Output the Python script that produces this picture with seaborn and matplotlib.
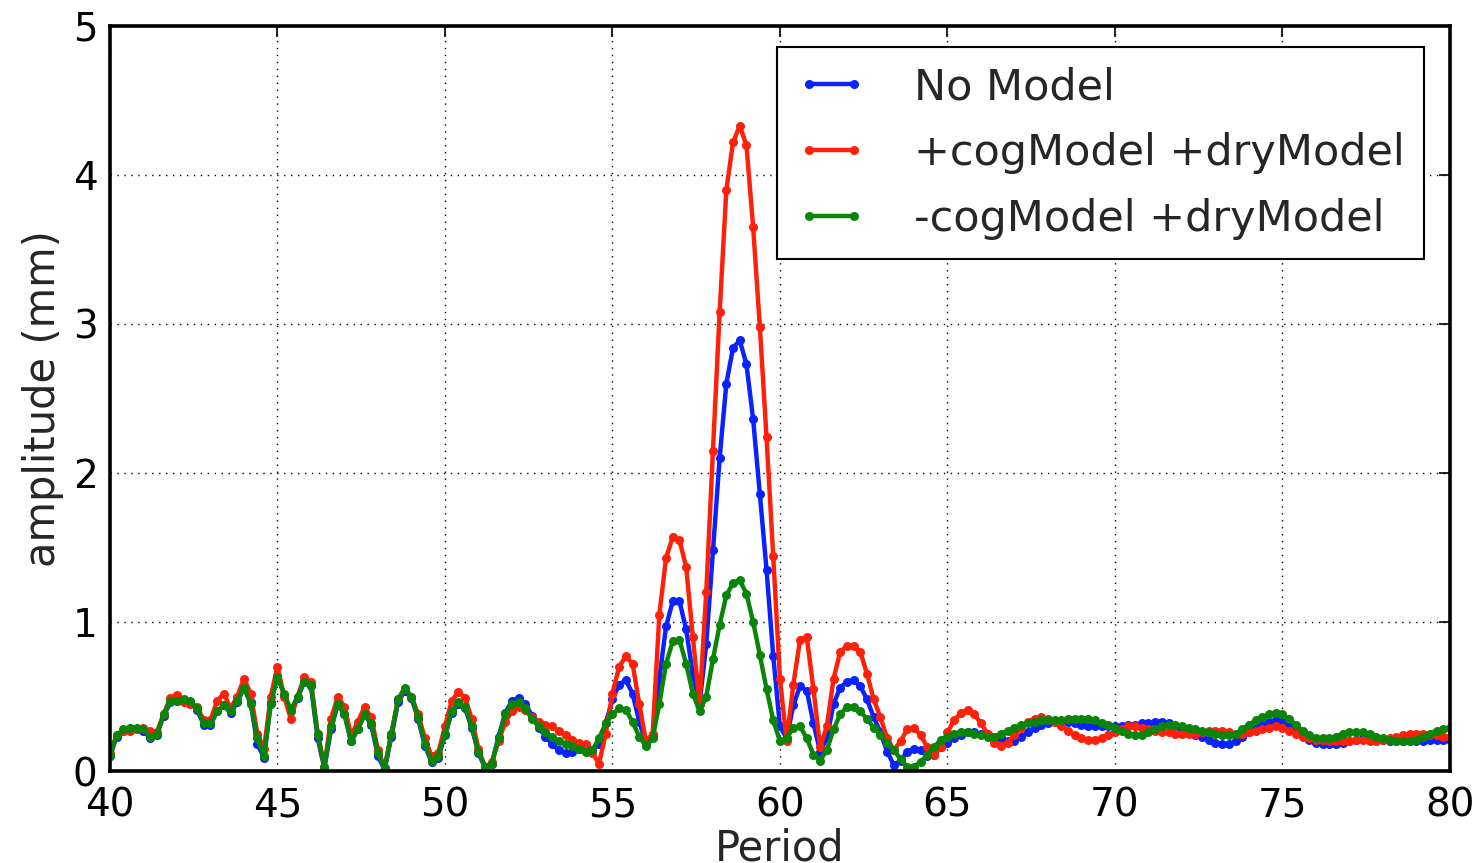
import numpy as np
import pandas as pd
import matplotlib
matplotlib.use("Agg")
import matplotlib.pyplot as plt
import seaborn as sns

# ---- data ----
period = np.round(np.arange(40.0, 80.001, 0.2), 1)

no_model = [
    0.10, 0.23, 0.27, 0.28, 0.28, 0.27, 0.22, 0.24, 0.37, 0.46,  # 40.0-41.8
    0.47, 0.47, 0.46, 0.41, 0.31, 0.31, 0.40, 0.44, 0.39, 0.46,  # 42.0-43.8
    0.56, 0.46, 0.18, 0.09, 0.46, 0.64, 0.51, 0.40, 0.49, 0.60,  # 44.0-45.8
    0.57, 0.22, 0.02, 0.28, 0.45, 0.38, 0.20, 0.28, 0.38, 0.31,  # 46.0-47.8
    0.10, 0.01, 0.23, 0.46, 0.54, 0.49, 0.35, 0.17, 0.06, 0.09,  # 48.0-49.8
    0.24, 0.39, 0.45, 0.42, 0.29, 0.12, 0.02, 0.05, 0.23, 0.39,  # 50.0-51.8
    0.47, 0.49, 0.45, 0.37, 0.29, 0.23, 0.18, 0.14, 0.12, 0.13,  # 52.0-53.8
    0.15, 0.16, 0.14, 0.18, 0.32, 0.48, 0.58, 0.61, 0.52, 0.33,  # 54.0-55.8
    0.19, 0.24, 0.62, 0.97, 1.14, 1.14, 0.95, 0.65, 0.45, 0.85,  # 56.0-57.8
    1.48, 2.10, 2.60, 2.84, 2.89, 2.73, 2.36, 1.86, 1.35, 0.77,  # 58.0-59.8
    0.30, 0.22, 0.44, 0.57, 0.54, 0.32, 0.13, 0.22, 0.45, 0.56,  # 60.0-61.8
    0.60, 0.61, 0.57, 0.48, 0.36, 0.26, 0.13, 0.04, 0.07, 0.13,  # 62.0-63.8
    0.15, 0.14, 0.10, 0.11, 0.16, 0.19, 0.22, 0.24, 0.26, 0.26,  # 64.0-65.8
    0.25, 0.24, 0.23, 0.22, 0.20, 0.20, 0.23, 0.26, 0.29, 0.31,  # 66.0-67.8
    0.32, 0.33, 0.33, 0.33, 0.32, 0.31, 0.30, 0.30, 0.30, 0.30,  # 68.0-69.8
    0.30, 0.30, 0.31, 0.31, 0.32, 0.32, 0.33, 0.33, 0.32, 0.30,  # 70.0-71.8
    0.28, 0.26, 0.24, 0.23, 0.21, 0.19, 0.18, 0.18, 0.20, 0.23,  # 72.0-73.8
    0.26, 0.29, 0.31, 0.33, 0.34, 0.33, 0.31, 0.28, 0.24, 0.21,  # 74.0-75.8
    0.19, 0.18, 0.18, 0.18, 0.19, 0.20, 0.21, 0.22, 0.22, 0.21,  # 76.0-77.8
    0.21, 0.20, 0.20, 0.20, 0.20, 0.20, 0.20, 0.21, 0.21, 0.21,  # 78.0-79.8
    0.21,                                                        # 80.0
]

cog_dry = [
    0.12, 0.24, 0.27, 0.27, 0.28, 0.29, 0.27, 0.26, 0.38, 0.49,
    0.51, 0.46, 0.45, 0.43, 0.34, 0.34, 0.47, 0.52, 0.42, 0.50,
    0.62, 0.52, 0.25, 0.15, 0.50, 0.70, 0.50, 0.35, 0.50, 0.63,
    0.60, 0.25, 0.03, 0.35, 0.50, 0.43, 0.24, 0.33, 0.43, 0.36,
    0.14, 0.02, 0.25, 0.48, 0.55, 0.50, 0.38, 0.22, 0.10, 0.12,
    0.30, 0.47, 0.53, 0.49, 0.35, 0.15, 0.02, 0.06, 0.20, 0.33,
    0.40, 0.43, 0.41, 0.36, 0.33, 0.31, 0.30, 0.27, 0.24, 0.21,
    0.19, 0.18, 0.12, 0.05, 0.25, 0.52, 0.70, 0.77, 0.72, 0.45,
    0.20, 0.25, 1.05, 1.43, 1.57, 1.55, 1.37, 0.90, 0.45, 1.20,
    2.15, 3.08, 3.90, 4.22, 4.33, 4.20, 3.65, 2.98, 2.24, 1.44,
    0.62, 0.20, 0.58, 0.88, 0.90, 0.55, 0.16, 0.30, 0.62, 0.80,
    0.84, 0.84, 0.80, 0.65, 0.48, 0.36, 0.22, 0.14, 0.20, 0.28,
    0.29, 0.24, 0.16, 0.11, 0.16, 0.26, 0.34, 0.39, 0.41, 0.38,
    0.32, 0.25, 0.19, 0.17, 0.19, 0.24, 0.29, 0.33, 0.35, 0.36,
    0.35, 0.33, 0.30, 0.27, 0.24, 0.22, 0.21, 0.21, 0.22, 0.24,
    0.26, 0.28, 0.30, 0.30, 0.29, 0.28, 0.27, 0.26, 0.26, 0.25,
    0.25, 0.25, 0.25, 0.26, 0.27, 0.27, 0.27, 0.26, 0.25, 0.25,
    0.26, 0.27, 0.28, 0.29, 0.30, 0.29, 0.27, 0.25, 0.23, 0.22,
    0.21, 0.21, 0.20, 0.20, 0.20, 0.20, 0.21, 0.21, 0.20, 0.20,
    0.21, 0.22, 0.23, 0.24, 0.25, 0.25, 0.25, 0.24, 0.24, 0.23,
    0.23,
]

nocog_dry = [
    0.10, 0.24, 0.28, 0.29, 0.29, 0.28, 0.23, 0.25, 0.38, 0.47,
    0.47, 0.48, 0.47, 0.42, 0.32, 0.32, 0.40, 0.44, 0.40, 0.47,
    0.56, 0.45, 0.22, 0.10, 0.45, 0.63, 0.52, 0.41, 0.50, 0.60,
    0.58, 0.25, 0.03, 0.30, 0.45, 0.38, 0.20, 0.28, 0.38, 0.32,
    0.12, 0.02, 0.25, 0.48, 0.56, 0.50, 0.36, 0.18, 0.07, 0.10,
    0.25, 0.40, 0.46, 0.43, 0.30, 0.13, 0.03, 0.05, 0.22, 0.38,
    0.45, 0.46, 0.42, 0.35, 0.30, 0.26, 0.23, 0.20, 0.18, 0.17,
    0.15, 0.13, 0.14, 0.22, 0.32, 0.38, 0.42, 0.41, 0.33, 0.23,
    0.17, 0.22, 0.45, 0.72, 0.87, 0.88, 0.72, 0.52, 0.40, 0.50,
    0.75, 0.98, 1.18, 1.26, 1.28, 1.19, 1.00, 0.78, 0.55, 0.34,
    0.20, 0.22, 0.29, 0.30, 0.22, 0.11, 0.07, 0.14, 0.28, 0.38,
    0.43, 0.43, 0.40, 0.35, 0.29, 0.24, 0.19, 0.14, 0.08, 0.03,
    0.03, 0.06, 0.11, 0.16, 0.21, 0.23, 0.25, 0.26, 0.26, 0.25,
    0.24, 0.23, 0.23, 0.25, 0.27, 0.29, 0.31, 0.32, 0.33, 0.34,
    0.34, 0.34, 0.34, 0.35, 0.35, 0.35, 0.35, 0.34, 0.32, 0.31,
    0.29, 0.27, 0.25, 0.24, 0.24, 0.26, 0.28, 0.30, 0.31, 0.31,
    0.30, 0.29, 0.28, 0.27, 0.26, 0.25, 0.24, 0.24, 0.25, 0.28,
    0.31, 0.34, 0.36, 0.38, 0.39, 0.38, 0.35, 0.31, 0.27, 0.24,
    0.22, 0.22, 0.22, 0.23, 0.25, 0.26, 0.26, 0.26, 0.25, 0.23,
    0.22, 0.21, 0.20, 0.20, 0.20, 0.21, 0.23, 0.25, 0.27, 0.28,
    0.29,
]

series_labels = ["No Model", "+cogModel +dryModel", "-cogModel +dryModel"]
series_colors = ["#0a22ff", "#ff200a", "#0a850a"]
x_ticks = [40, 45, 50, 55, 60, 65, 70, 75, 80]
y_ticks = [0, 1, 2, 3, 4, 5]

# ---- plotting ----
sns.set_style("white")
plt.rcParams["font.family"] = ["DejaVu Sans"]

fig = plt.figure(figsize=(14.72, 8.63), dpi=100)
ax = fig.add_axes([0.0747, 0.1066, 0.9103, 0.8633])

df = pd.DataFrame({
    "period": np.tile(period, 3),
    "amp": np.concatenate([no_model, cog_dry, nocog_dry]),
    "series": np.repeat(series_labels, len(period)),
})

for lab, col in zip(series_labels, series_colors):
    sub = df[df["series"] == lab]
    sns.lineplot(data=sub, x="period", y="amp", ax=ax, color=col,
                 linewidth=3.2, marker="o", markersize=6.5,
                 markeredgewidth=0, label=lab, estimator=None, sort=False)

ax.set_xlim(40, 80)
ax.set_ylim(0, 5)
ax.set_xticks(x_ticks)
ax.set_yticks(y_ticks)
ax.tick_params(axis="both", which="major", direction="in", length=8,
               width=1.2, labelsize=28, top=True, right=True,
               colors="black")
ax.tick_params(axis="x", pad=11)
ax.tick_params(axis="y", pad=9)
ax.grid(True, color="black", linestyle=(0, (1, 4)), linewidth=1.0)
for s in ax.spines.values():
    s.set_visible(True)
    s.set_linewidth(2.6)
    s.set_color("black")

ax.set_xlabel("Period", fontsize=30, labelpad=2)
ax.set_ylabel("amplitude (mm)", fontsize=30, labelpad=6)

leg = ax.legend(loc="upper right", fontsize=31, numpoints=2, frameon=True,
                fancybox=False, borderpad=0.45, handlelength=1.65,
                handletextpad=1.1, labelspacing=0.55, borderaxespad=0,
                bbox_to_anchor=(0.981, 0.972))
leg.get_frame().set_edgecolor("black")
leg.get_frame().set_linewidth(1.5)
leg.get_frame().set_alpha(1)

fig.savefig("out.png", dpi=100)
